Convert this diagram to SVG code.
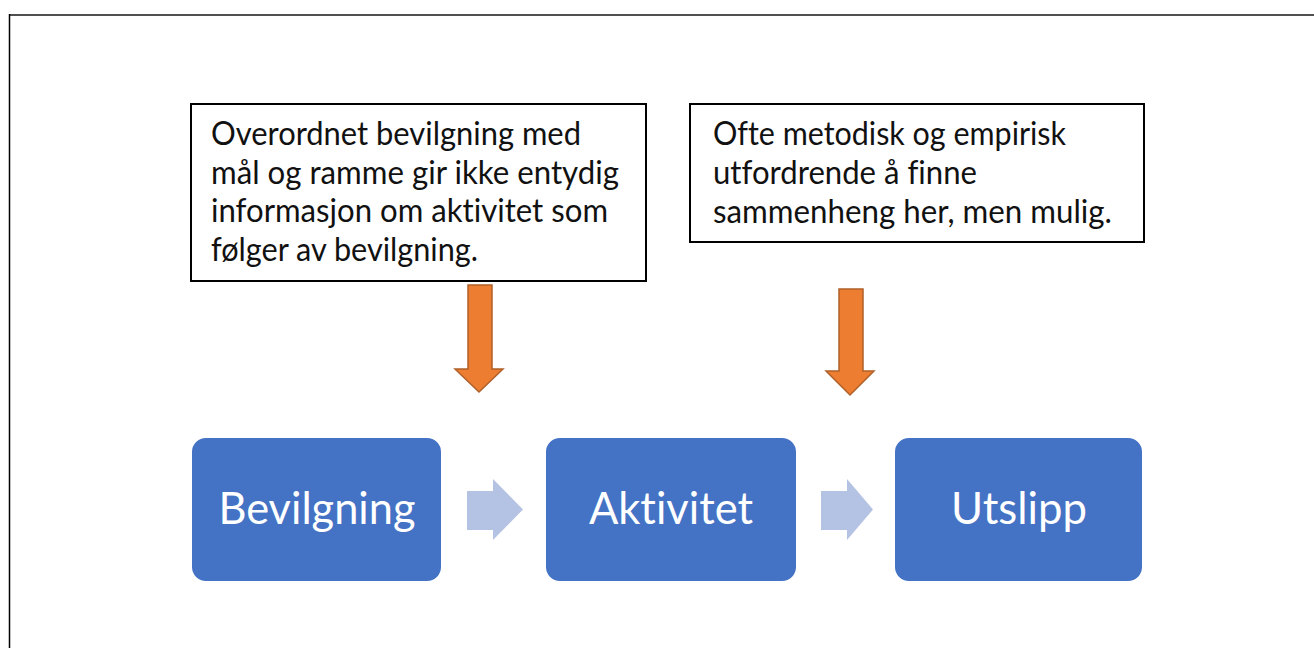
<svg xmlns="http://www.w3.org/2000/svg" width="1314" height="648" viewBox="0 0 1314 648">
<style>
text{font-variant-ligatures:none;font-feature-settings:"liga" 0,"clig" 0}
.note{fill:#ffffff;stroke:#000000;stroke-width:2}
.nt{font-family:Lato,"Open Sans","Liberation Sans",sans-serif;font-size:32px;fill:#111111}
.blue{fill:#4472C4;stroke:#ffffff;stroke-width:2}
.bt{font-family:Lato,"Open Sans","Liberation Sans",sans-serif;font-size:44px;fill:#ffffff;text-anchor:middle}
.orange{fill:#ED7D31;stroke:#B0602A;stroke-width:1.5}
.flow{fill:#B4C2E3}
</style>
<rect x="0" y="0" width="1314" height="648" fill="#ffffff"/>
<line x1="9" y1="15" x2="1314" y2="15" stroke="#505050" stroke-width="2"/>
<line x1="9.5" y1="14" x2="9.5" y2="648" stroke="#000000" stroke-width="1.5"/>

<g id="note1">
<rect class="note" x="191" y="104" width="455" height="177"/>
<text class="nt" x="211" y="145" textLength="370" lengthAdjust="spacingAndGlyphs">Overordnet bevilgning med</text>
<text class="nt" x="211" y="184" textLength="408" lengthAdjust="spacingAndGlyphs">mål og ramme gir ikke entydig</text>
<text class="nt" x="211" y="222" textLength="397" lengthAdjust="spacingAndGlyphs">informasjon om aktivitet som</text>
<text class="nt" x="211" y="261" textLength="267" lengthAdjust="spacingAndGlyphs">følger av bevilgning.</text>
</g>

<g id="note2">
<rect class="note" x="690" y="104" width="454" height="138"/>
<text class="nt" x="713" y="145" textLength="353" lengthAdjust="spacingAndGlyphs">Ofte metodisk og empirisk</text>
<text class="nt" x="713" y="184" textLength="264" lengthAdjust="spacingAndGlyphs">utfordrende å finne</text>
<text class="nt" x="713" y="223" textLength="399" lengthAdjust="spacingAndGlyphs">sammenheng her, men mulig.</text>
</g>

<g id="bevilgning">
<rect class="blue" x="191" y="437" width="251" height="145" rx="15"/>
<text class="bt" x="317" y="524" textLength="197" lengthAdjust="spacingAndGlyphs">Bevilgning</text>
</g>

<g id="aktivitet">
<rect class="blue" x="545" y="437" width="252" height="145" rx="15"/>
<text class="bt" x="671" y="524" textLength="164" lengthAdjust="spacingAndGlyphs">Aktivitet</text>
</g>

<g id="utslipp">
<rect class="blue" x="894" y="437" width="249" height="145" rx="15"/>
<text class="bt" x="1019" y="524" textLength="136" lengthAdjust="spacingAndGlyphs">Utslipp</text>
</g>

<g id="connectors">
<polygon class="orange" points="468,285 492,285 492,369 503,369 479,392 455,369 468,369"/>
<polygon class="orange" points="839,289 863,289 863,371 874,371 850,395 826,371 839,371"/>
<polygon class="flow" points="467,491 493,491 493,479 523,509.5 493,540 493,530 467,530"/>
<polygon class="flow" points="821,491 847,491 847,479 873,509.5 847,540 847,530 821,530"/>
</g>
</svg>
